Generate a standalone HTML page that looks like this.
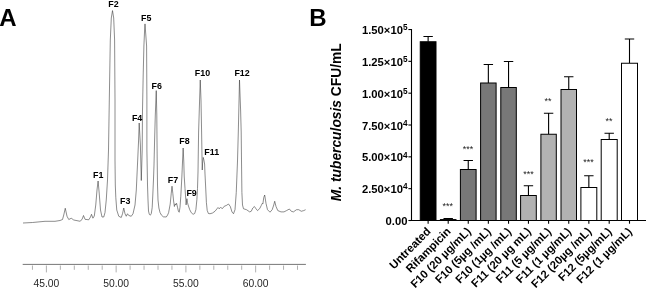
<!DOCTYPE html>
<html><head><meta charset="utf-8"><title>Figure</title>
<style>
html,body{margin:0;padding:0;background:#fff}
svg{display:block}
text{font-family:"Liberation Sans",sans-serif}
.pl{font-size:24px;font-weight:bold;fill:#000}
.fl{font-size:8.9px;font-weight:bold;fill:#000}
.xl{font-size:10.3px;fill:#262626}
.yl{font-size:11.25px;font-weight:bold;fill:#000}
.bl{font-size:11.35px;font-weight:bold;fill:#000}
.st{font-size:9px;fill:#222}
.ti{font-size:13.8px;font-weight:bold;fill:#000}
</style></head><body>
<svg width="646" height="288" viewBox="0 0 646 288">
<rect width="646" height="288" fill="#fff"/>
<text x="-0.8" y="26.3" class="pl">A</text>
<text x="309.3" y="26.3" class="pl">B</text>
<path d="M23.00,223.00 L32.50,222.50 L45.00,221.30 L55.00,221.30 L60.00,220.50 L62.50,219.50 L63.75,215.00 L65.25,208.25 L67.00,216.25 L68.75,219.50 L71.25,218.25 L73.75,220.00 L80.00,221.25 L82.00,219.50 L83.50,215.50 L85.00,219.30 L88.75,219.80 L90.50,217.00 L91.50,214.30 L92.90,218.20 L94.30,216.00 L95.75,205.00 L97.00,190.00 L98.10,181.00 L99.20,193.00 L100.50,210.00 L102.00,217.00 L103.75,217.00 L105.00,212.50 L106.25,200.00 L107.50,180.00 L108.50,150.00 L109.30,100.00 L110.30,40.00 L111.30,18.00 L112.50,10.60 L113.70,18.00 L114.60,40.00 L115.00,100.00 L115.00,160.00 L115.30,185.00 L115.80,197.50 L116.75,210.00 L118.75,216.25 L121.25,217.50 L122.50,213.75 L123.75,208.00 L125.00,213.75 L126.25,216.25 L127.50,213.75 L128.75,215.50 L131.25,216.25 L133.00,213.75 L135.00,205.00 L136.30,190.00 L137.70,160.00 L138.60,140.00 L139.20,123.00 L140.40,145.00 L141.30,180.50 L142.20,150.00 L142.50,110.00 L143.20,75.00 L143.90,46.00 L144.60,30.00 L145.00,23.90 L146.60,46.00 L146.90,100.00 L146.90,150.00 L147.50,185.00 L148.00,200.00 L148.50,211.00 L149.30,214.30 L150.30,215.20 L151.30,213.50 L152.20,207.50 L152.80,195.00 L153.50,179.00 L154.00,165.00 L154.60,140.00 L155.30,115.00 L156.25,90.60 L156.80,115.00 L157.00,140.00 L157.20,160.00 L157.50,185.00 L158.00,200.00 L158.90,208.00 L160.00,212.50 L161.50,215.20 L163.30,216.80 L166.25,217.00 L167.60,215.00 L168.60,212.70 L170.20,204.10 L171.25,193.20 L172.00,186.20 L172.80,193.20 L173.60,201.00 L174.40,206.50 L175.20,203.80 L175.80,204.90 L176.60,203.30 L177.50,207.25 L178.40,211.20 L179.20,212.25 L180.00,207.25 L180.80,196.30 L181.90,176.00 L182.50,162.00 L183.15,148.00 L183.80,162.00 L184.20,176.00 L185.00,188.50 L185.80,199.40 L186.10,204.90 L186.90,198.70 L187.50,202.60 L188.10,204.90 L189.70,209.60 L191.25,212.70 L193.10,214.30 L194.70,213.50 L195.90,209.60 L196.90,199.40 L197.50,188.50 L198.00,172.00 L198.60,132.00 L199.60,100.00 L200.25,80.00 L201.00,100.00 L201.60,132.00 L201.90,150.00 L202.10,163.00 L202.25,170.00 L202.60,163.00 L203.20,157.40 L203.90,160.00 L204.60,164.00 L205.00,174.00 L205.30,180.00 L205.80,190.00 L206.40,202.60 L207.20,210.40 L208.40,213.50 L210.00,213.75 L212.50,213.00 L215.00,211.25 L217.00,208.75 L218.00,207.50 L219.00,208.75 L220.50,207.50 L222.50,208.50 L224.25,206.25 L226.25,205.50 L228.50,204.00 L230.30,206.50 L232.00,212.00 L233.50,213.75 L235.00,209.70 L236.25,192.50 L237.50,161.00 L238.30,132.00 L239.50,80.00 L240.60,110.00 L241.20,132.00 L241.50,161.00 L241.90,192.50 L242.50,205.00 L243.50,208.75 L246.50,209.70 L249.70,211.90 L251.25,211.25 L252.80,208.00 L254.40,206.50 L256.00,208.75 L257.50,210.60 L259.70,208.60 L261.30,205.40 L262.40,203.20 L262.90,203.80 L263.75,197.50 L264.70,195.00 L266.00,203.40 L267.50,209.70 L270.00,212.20 L272.20,209.70 L273.75,205.00 L274.70,201.25 L276.00,206.50 L277.80,210.60 L281.00,211.90 L284.00,211.90 L286.50,210.60 L289.40,209.00 L291.25,211.25 L293.40,211.90 L296.50,209.70 L298.75,209.70 L301.25,211.25 L303.75,210.60 L305.60,209.70" fill="none" stroke="#3a3a3a" stroke-width="0.58" stroke-linejoin="round"/>
<g class="fl" text-anchor="middle">
<text x="98.3" y="178">F1</text><text x="113.5" y="6.6">F2</text><text x="125.3" y="204.1">F3</text><text x="137.1" y="120.8">F4</text><text x="146.2" y="20.8">F5</text><text x="156.8" y="88.5">F6</text><text x="173" y="182.9">F7</text><text x="184.5" y="144.4">F8</text><text x="191.6" y="195.8">F9</text><text x="202.5" y="76.4">F10</text><text x="211.7" y="155.1">F11</text><text x="242.1" y="76.4">F12</text>
</g>
<line x1="22.7" y1="264.4" x2="305.9" y2="264.4" stroke="#666" stroke-width="0.9"/>
<g stroke="#858585" stroke-width="0.65"><line x1="32.45" y1="265.5" x2="32.45" y2="269.8"/><line x1="46.40" y1="265.5" x2="46.40" y2="272.4"/><line x1="60.35" y1="265.5" x2="60.35" y2="269.8"/><line x1="74.30" y1="265.5" x2="74.30" y2="269.8"/><line x1="88.25" y1="265.5" x2="88.25" y2="269.8"/><line x1="102.20" y1="265.5" x2="102.20" y2="269.8"/><line x1="116.15" y1="265.5" x2="116.15" y2="272.4"/><line x1="130.10" y1="265.5" x2="130.10" y2="269.8"/><line x1="144.05" y1="265.5" x2="144.05" y2="269.8"/><line x1="158.00" y1="265.5" x2="158.00" y2="269.8"/><line x1="171.95" y1="265.5" x2="171.95" y2="269.8"/><line x1="185.90" y1="265.5" x2="185.90" y2="272.4"/><line x1="199.85" y1="265.5" x2="199.85" y2="269.8"/><line x1="213.80" y1="265.5" x2="213.80" y2="269.8"/><line x1="227.75" y1="265.5" x2="227.75" y2="269.8"/><line x1="241.70" y1="265.5" x2="241.70" y2="269.8"/><line x1="255.65" y1="265.5" x2="255.65" y2="272.4"/><line x1="269.60" y1="265.5" x2="269.60" y2="269.8"/><line x1="283.55" y1="265.5" x2="283.55" y2="269.8"/><line x1="297.50" y1="265.5" x2="297.50" y2="269.8"/></g>
<g class="xl"><text x="46.40" y="286.7" text-anchor="middle">45.00</text><text x="116.15" y="286.7" text-anchor="middle">50.00</text><text x="185.90" y="286.7" text-anchor="middle">55.00</text><text x="255.65" y="286.7" text-anchor="middle">60.00</text></g>
<path d="M411.5,29 V220.5 H646" fill="none" stroke="#000" stroke-width="1.1"/>
<line x1="408.4" y1="220.50" x2="411.5" y2="220.50" stroke="#000" stroke-width="1.1"/><text x="407.5" y="225.10" text-anchor="end" class="yl">0.00</text><line x1="408.4" y1="188.67" x2="411.5" y2="188.67" stroke="#000" stroke-width="1.1"/><text x="407.5" y="193.27" text-anchor="end" class="yl">2.50×10<tspan dy="-3.9" style="font-size:8.2px">4</tspan></text><line x1="408.4" y1="156.84" x2="411.5" y2="156.84" stroke="#000" stroke-width="1.1"/><text x="407.5" y="161.44" text-anchor="end" class="yl">5.00×10<tspan dy="-3.9" style="font-size:8.2px">4</tspan></text><line x1="408.4" y1="125.01" x2="411.5" y2="125.01" stroke="#000" stroke-width="1.1"/><text x="407.5" y="129.61" text-anchor="end" class="yl">7.50×10<tspan dy="-3.9" style="font-size:8.2px">4</tspan></text><line x1="408.4" y1="93.18" x2="411.5" y2="93.18" stroke="#000" stroke-width="1.1"/><text x="407.5" y="97.78" text-anchor="end" class="yl">1.00×10<tspan dy="-3.9" style="font-size:8.2px">5</tspan></text><line x1="408.4" y1="61.35" x2="411.5" y2="61.35" stroke="#000" stroke-width="1.1"/><text x="407.5" y="65.95" text-anchor="end" class="yl">1.25×10<tspan dy="-3.9" style="font-size:8.2px">5</tspan></text><line x1="408.4" y1="29.52" x2="411.5" y2="29.52" stroke="#000" stroke-width="1.1"/><text x="407.5" y="34.12" text-anchor="end" class="yl">1.50×10<tspan dy="-3.9" style="font-size:8.2px">5</tspan></text>
<path d="M428.12,41.75 V36.5 M423.43,36.5 H432.82" stroke="#000" stroke-width="1.1" fill="none"/><rect x="420.25" y="41.75" width="15.75" height="178.75" fill="#000" stroke="#000" stroke-width="1"/><line x1="428.12" y1="220.5" x2="428.12" y2="223.7" stroke="#000" stroke-width="1.1"/><text transform="translate(431.43,232.2) rotate(-45)" text-anchor="end" class="bl">Untreated</text><path d="M448.20,219.6 V218.6 M443.50,218.6 H452.90" stroke="#000" stroke-width="1.1" fill="none"/><rect x="440.40" y="219.6" width="15.60" height="0.90" fill="#000" stroke="#000" stroke-width="1"/><line x1="448.20" y1="220.5" x2="448.20" y2="223.7" stroke="#000" stroke-width="1.1"/><text transform="translate(451.50,232.2) rotate(-45)" text-anchor="end" class="bl">Rifampicin</text><path d="M468.25,169.5 V160.5 M463.55,160.5 H472.95" stroke="#000" stroke-width="1.1" fill="none"/><rect x="460.40" y="169.5" width="15.70" height="51.00" fill="#787878" stroke="#000" stroke-width="1"/><line x1="468.25" y1="220.5" x2="468.25" y2="223.7" stroke="#000" stroke-width="1.1"/><text transform="translate(471.55,232.2) rotate(-45)" text-anchor="end" class="bl">F10 (20 µg/mL)</text><path d="M488.35,83 V64.5 M483.65,64.5 H493.05" stroke="#000" stroke-width="1.1" fill="none"/><rect x="480.60" y="83" width="15.50" height="137.50" fill="#787878" stroke="#000" stroke-width="1"/><line x1="488.35" y1="220.5" x2="488.35" y2="223.7" stroke="#000" stroke-width="1.1"/><text transform="translate(491.65,232.2) rotate(-45)" text-anchor="end" class="bl">F10 (5µg /mL)</text><path d="M508.55,87.5 V61.5 M503.85,61.5 H513.25" stroke="#000" stroke-width="1.1" fill="none"/><rect x="500.80" y="87.5" width="15.50" height="133.00" fill="#787878" stroke="#000" stroke-width="1"/><line x1="508.55" y1="220.5" x2="508.55" y2="223.7" stroke="#000" stroke-width="1.1"/><text transform="translate(511.85,232.2) rotate(-45)" text-anchor="end" class="bl">F10 (1µg /mL)</text><path d="M528.45,195.5 V185.75 M523.75,185.75 H533.15" stroke="#000" stroke-width="1.1" fill="none"/><rect x="520.60" y="195.5" width="15.70" height="25.00" fill="#b2b2b2" stroke="#000" stroke-width="1"/><line x1="528.45" y1="220.5" x2="528.45" y2="223.7" stroke="#000" stroke-width="1.1"/><text transform="translate(531.75,232.2) rotate(-45)" text-anchor="end" class="bl">F11 (20 µg mL)</text><path d="M548.60,134.25 V113.25 M543.90,113.25 H553.30" stroke="#000" stroke-width="1.1" fill="none"/><rect x="540.90" y="134.25" width="15.40" height="86.25" fill="#b2b2b2" stroke="#000" stroke-width="1"/><line x1="548.60" y1="220.5" x2="548.60" y2="223.7" stroke="#000" stroke-width="1.1"/><text transform="translate(551.90,232.2) rotate(-45)" text-anchor="end" class="bl">F11 (5 µg/mL)</text><path d="M568.75,89.5 V76.75 M564.05,76.75 H573.45" stroke="#000" stroke-width="1.1" fill="none"/><rect x="561.00" y="89.5" width="15.50" height="131.00" fill="#b2b2b2" stroke="#000" stroke-width="1"/><line x1="568.75" y1="220.5" x2="568.75" y2="223.7" stroke="#000" stroke-width="1.1"/><text transform="translate(572.05,232.2) rotate(-45)" text-anchor="end" class="bl">F11 (1 µg/mL)</text><path d="M588.85,187.5 V175.75 M584.15,175.75 H593.55" stroke="#000" stroke-width="1.1" fill="none"/><rect x="580.90" y="187.5" width="15.90" height="33.00" fill="#fff" stroke="#000" stroke-width="1"/><line x1="588.85" y1="220.5" x2="588.85" y2="223.7" stroke="#000" stroke-width="1.1"/><text transform="translate(592.15,232.2) rotate(-45)" text-anchor="end" class="bl">F12 (20µg /mL)</text><path d="M609.20,139.5 V133.25 M604.50,133.25 H613.90" stroke="#000" stroke-width="1.1" fill="none"/><rect x="601.20" y="139.5" width="16.00" height="81.00" fill="#fff" stroke="#000" stroke-width="1"/><line x1="609.20" y1="220.5" x2="609.20" y2="223.7" stroke="#000" stroke-width="1.1"/><text transform="translate(612.50,232.2) rotate(-45)" text-anchor="end" class="bl">F12 (5µg/mL)</text><path d="M629.50,63.25 V39 M624.80,39 H634.20" stroke="#000" stroke-width="1.1" fill="none"/><rect x="621.50" y="63.25" width="16.00" height="157.25" fill="#fff" stroke="#000" stroke-width="1"/><line x1="629.50" y1="220.5" x2="629.50" y2="223.7" stroke="#000" stroke-width="1.1"/><text transform="translate(632.80,232.2) rotate(-45)" text-anchor="end" class="bl">F12 (1 µg/mL)</text>
<text x="447.75" y="209.3" text-anchor="middle" class="st">***</text><text x="468" y="152.3" text-anchor="middle" class="st">***</text><text x="548" y="103.6" text-anchor="middle" class="st">**</text><text x="528.5" y="176.8" text-anchor="middle" class="st">***</text><text x="588.5" y="164.8" text-anchor="middle" class="st">***</text><text x="609" y="123.8" text-anchor="middle" class="st">**</text>
<text transform="translate(340.7,201.2) rotate(-90)" class="ti"><tspan font-style="italic">M. tuberculosis</tspan> CFU/mL</text>
</svg>
</body></html>
